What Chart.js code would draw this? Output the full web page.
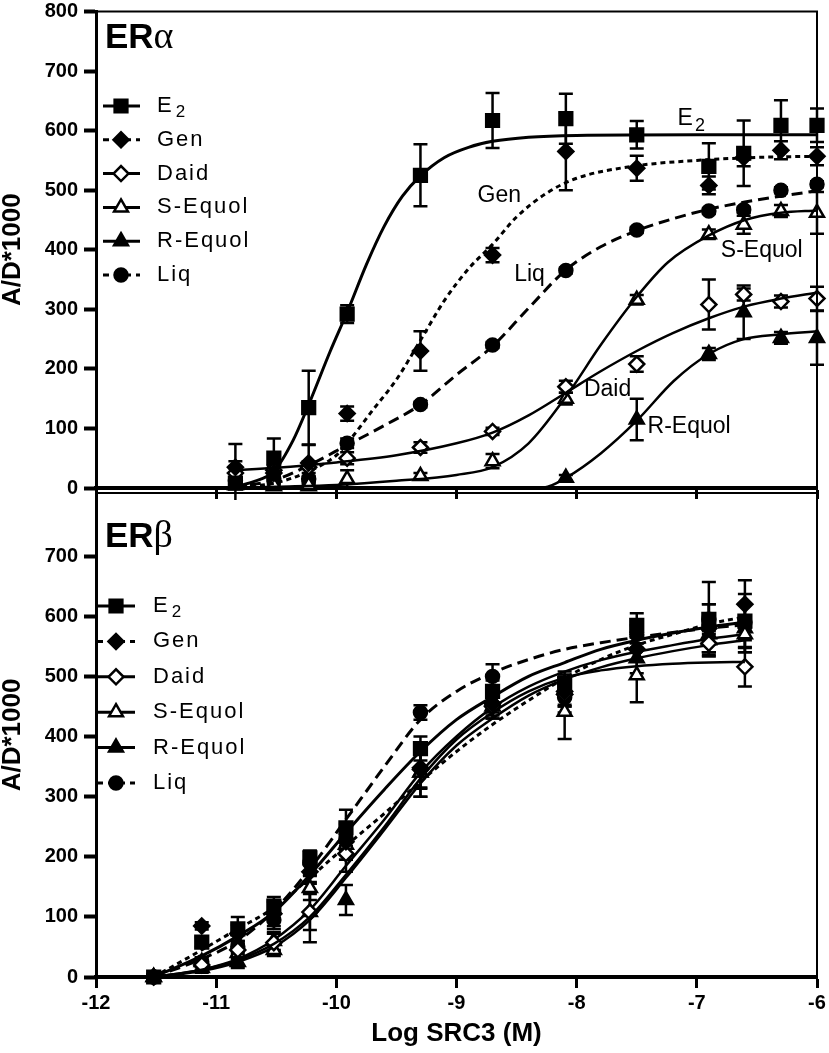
<!DOCTYPE html>
<html>
<head>
<meta charset="utf-8">
<script src="https://cdn.jsdelivr.net/npm/chart.js@4.4.0/dist/chart.umd.min.js"></script>
<style>
  body { margin: 0; background: #fff; width: 829px; height: 1053px; overflow: hidden; position: relative; }
  #chartA { position: absolute; left: 0; top: 0; }
  #chartB { position: absolute; left: 0; top: 480px; }
</style>
</head>
<body>
<canvas id="chartA" width="829" height="500"></canvas>
<canvas id="chartB" width="829" height="573"></canvas>
<script>
// Series names (legend order)
const seriesNames = ['E2', 'Gen', 'Daid', 'S-Equol', 'R-Equol', 'Liq'];

// Axis ticks
const xTicks = [-12, -11, -10, -9, -8, -7, -6];
const alphaYTicks = [0, 100, 200, 300, 400, 500, 600, 700, 800];
const betaYTicks = [0, 100, 200, 300, 400, 500, 600, 700];

// ---- ERα: measured points (Log SRC3, A/D*1000, SEM) ----
const alphaDoses = [-10.84, -10.52, -10.23, -9.91, -9.30, -8.70, -8.09, -7.50, -6.90, -6.61, -6.30, -6.00];
const alphaE2 = [8, 50, 135, 292, 525, 617, 620, 593, 540, 562, 609, 609];
const alphaE2Err = [66, 33, 62, 15, 52, 46, 42, 23, 39, 55, 42, 28];
const alphaGen = [35, 25, 42, 125, 230, 391, 565, 537, 508, 555, 567, 557];
const alphaGenErr = [10, 12, 30, 12, 33, 12, 65, 21, 15, 15, 15, 15];
const alphaDaid = [25, 30, 35, 50, 68, 95, 170, 208, 308, 325, 313, 318];
const alphaDaidErr = [8, 8, 10, 10, 9, 6, 10, 13, 42, 10, 10, 20];
const alphaSEq = [5, 5, 5, 15, 20, 45, 150, 316, 426, 442, 465, 462];
const alphaSEqErr = [3, 3, 3, 15, 5, 12, 10, 8, 8, 15, 10, 35];
const alphaREq = [5, 3, 3, null, null, null, 17, 115, 225, 295, 252, 252];
const alphaREqErr = [3, 3, 3, 0, 0, 0, 5, 35, 10, 45, 10, 45];
const alphaLiq = [12, 15, 15, 75, 140, 240, 365, 433, 465, 467, 500, 510];
const alphaLiqErr = [5, 5, 5, 8, 5, 5, 5, 5, 5, 5, 5, 5];

// ---- ERα: fitted curves ----
const alphaE2CurveX = [-10.86, -10.7, -10.52, -10.36, -10.23, -10.05, -9.91, -9.75, -9.6, -9.45, -9.3, -9.1, -8.9, -8.7, -8.4, -8.0, -7.0, -6.0];
const alphaE2CurveY = [2, 10, 28, 80, 140, 230, 295, 375, 440, 490, 524, 555, 572, 582, 589, 592, 593, 593];
const alphaGenCurveX = [-10.86, -10.52, -10.23, -10.0, -9.91, -9.7, -9.5, -9.3, -9.1, -8.9, -8.7, -8.5, -8.25, -8.0, -7.5, -7.0, -6.5, -6.0];
const alphaGenCurveY = [2, 8, 28, 55, 75, 130, 182, 248, 315, 368, 409, 455, 495, 520, 541, 550, 555, 557];
const alphaDaidCurveX = [-10.86, -10.5, -10.0, -9.5, -9.0, -8.7, -8.4, -8.09, -7.8, -7.5, -7.2, -6.9, -6.6, -6.3, -6.0];
const alphaDaidCurveY = [30, 34, 43, 55, 75, 93, 122, 160, 196, 230, 260, 285, 305, 318, 328];
const alphaSEqCurveX = [-10.86, -10.5, -10.0, -9.5, -9.0, -8.7, -8.4, -8.09, -7.8, -7.5, -7.24, -6.9, -6.6, -6.3, -6.0];
const alphaSEqCurveY = [0, 2, 5, 12, 22, 35, 75, 153, 240, 321, 379, 424, 450, 462, 466];
const alphaREqCurveX = [-10.86, -9.0, -8.5, -8.27, -8.09, -7.8, -7.5, -7.19, -6.9, -6.61, -6.3, -6.0];
const alphaREqCurveY = [0, 0, 0, 1, 17, 58, 113, 180, 225, 250, 258, 263];
const alphaLiqCurveX = [-10.86, -10.52, -10.23, -9.91, -9.6, -9.3, -9.0, -8.7, -8.4, -8.09, -7.8, -7.5, -7.2, -6.9, -6.6, -6.3, -6.0];
const alphaLiqCurveY = [2, 13, 38, 72, 105, 140, 190, 238, 302, 366, 405, 432, 452, 468, 480, 490, 499];

// ---- ERβ: measured points ----
const betaDoses = [-11.52, -11.12, -10.82, -10.52, -10.22, -9.92, -9.30, -8.70, -8.10, -7.50, -6.90, -6.60];
const betaE2 = [0, 58, 80, 118, 198, 248, 380, 475, 488, 585, 595, 592];
const betaE2Err = [4, 8, 20, 15, 12, 30, 20, 18, 20, 20, 62, 45];
const betaGen = [0, 85, 72, 105, 175, 225, 348, 455, 475, 545, 580, 620];
const betaGenErr = [4, 6, 15, 20, 20, 30, 35, 20, 25, 20, 40, 40];
const betaDaid = [0, 20, 45, 57, 108, 205, 345, 450, 470, 545, 555, 516];
const betaDaidErr = [4, 8, 10, 15, 30, 30, 30, 20, 20, 20, 20, 33];
const betaSEq = [0, 25, 40, 45, 148, 220, 340, 460, 441, 502, 560, 570];
const betaSEqErr = [4, 8, 10, 10, 20, 25, 40, 20, 45, 45, 20, 30];
const betaREq = [0, 15, 25, 60, 108, 128, 340, 450, 478, 530, 570, 580];
const betaREqErr = [4, 8, 10, 15, 50, 25, 40, 20, 25, 25, 30, 40];
const betaLiq = [0, 25, 50, 95, 190, 230, 440, 500, 465, 570, 595, 590];
const betaLiqErr = [4, 8, 10, 15, 20, 25, 12, 20, 25, 15, 25, 30];

// ---- ERβ: fitted curves ----
const betaCurveX = [-11.52, -11.12, -10.82, -10.52, -10.22, -9.92, -9.6, -9.3, -9.0, -8.7, -8.4, -8.1, -7.8, -7.5, -7.2, -6.9, -6.6];
const betaE2CurveY = [0, 35, 68, 108, 170, 240, 312, 375, 428, 466, 500, 523, 545, 560, 572, 582, 590];
const betaGenCurveY = [0, 45, 80, 115, 165, 218, 272, 325, 375, 420, 460, 497, 528, 552, 570, 587, 599];
const betaDaidCurveY = [0, 12, 28, 55, 100, 170, 250, 330, 395, 440, 475, 498, 510, 517, 521, 523, 524];
const betaSEqCurveY = [0, 10, 25, 50, 95, 165, 245, 322, 385, 430, 468, 495, 515, 530, 542, 552, 560];
const betaREqCurveY = [0, 12, 30, 62, 112, 185, 262, 340, 400, 448, 483, 508, 527, 541, 552, 562, 570];
const betaLiqCurveY = [0, 30, 60, 110, 180, 262, 350, 428, 475, 506, 528, 545, 556, 565, 573, 580, 586];

// Styles
const FONT = '"Liberation Sans", Arial, Helvetica, sans-serif';
const seriesStyle = [
    { point: 'rect', radius: 9, fill: '#000', dash: [], legendDash: [], width: 3 },
    { point: 'rectRot', radius: 7.5, fill: '#000', dash: [5, 4], legendDash: [6, 5], width: 3 },
    { point: 'rectRot', radius: 7.5, fill: '#fff', dash: [], legendDash: [], width: 2.5 },
    { point: 'triangle', radius: 8, fill: '#fff', dash: [], legendDash: [], width: 2.5 },
    { point: 'triangle', radius: 8, fill: '#000', dash: [], legendDash: [], width: 2.5 },
    { point: 'circle', radius: 6.5, fill: '#000', dash: [11, 6], legendDash: [6, 5], width: 3 },
];

function buildDatasets(curves, doses, points, errs) {
    const ds = [];
    seriesNames.forEach((name, i) => {
        const st = seriesStyle[i];
        ds.push({
            label: name + ' fit',
            data: curves[i][0].map((x, k) => ({ x: x, y: curves[i][1][k] })),
            showLine: true,
            borderColor: '#000',
            borderWidth: st.width,
            borderDash: st.dash,
            pointRadius: 0,
            cubicInterpolationMode: 'monotone',
            fill: false
        });
        ds.push({
            label: name,
            data: doses.map((x, k) => ({ x: x, y: points[i][k] })),
            errors: errs[i],
            showLine: false,
            pointStyle: st.point,
            pointRadius: st.radius,
            pointBackgroundColor: st.fill,
            pointBorderColor: '#000',
            pointBorderWidth: 2.5,
            clip: false
        });
    });
    return ds;
}

// small marker drawer for the legend (same geometry as Chart.js point styles)
function drawMarker(ctx, style, r, x, y) {
    ctx.beginPath();
    if (style === 'rect') {
        const s = r * Math.SQRT1_2;
        ctx.rect(x - s, y - s, 2 * s, 2 * s);
    } else if (style === 'rectRot') {
        ctx.moveTo(x - r, y); ctx.lineTo(x, y - r); ctx.lineTo(x + r, y); ctx.lineTo(x, y + r); ctx.closePath();
    } else if (style === 'triangle') {
        for (let k = 0; k < 3; k++) {
            const a = k * 2 * Math.PI / 3;
            const px = x + Math.sin(a) * r, py = y - Math.cos(a) * r;
            if (k === 0) ctx.moveTo(px, py); else ctx.lineTo(px, py);
        }
        ctx.closePath();
    } else {
        ctx.arc(x, y, r, 0, Math.PI * 2);
    }
    ctx.fill();
    ctx.stroke();
}

// writes a label, with E2 given a subscript 2
function drawName(ctx, name, x, y, size, spacing) {
    ctx.letterSpacing = spacing + 'px';
    ctx.font = size + 'px ' + FONT;
    ctx.textAlign = 'left';
    ctx.textBaseline = 'middle';
    if (name === 'E2') {
        ctx.fillText('E', x, y);
        const w = ctx.measureText('E').width;
        ctx.font = Math.round(size * 0.78) + 'px ' + FONT;
        ctx.fillText('2', x + w + 2, y + size * 0.3);
    } else {
        ctx.fillText(name, x, y);
    }
    ctx.letterSpacing = '0px';
}

const errorBars = {
    id: 'errorBars',
    beforeDatasetsDraw(chart) {
        const { ctx, scales: { x, y } } = chart;
        ctx.save();
        ctx.strokeStyle = '#000';
        ctx.lineWidth = 2.5;
        chart.data.datasets.forEach(ds => {
            if (!ds.errors) return;
            ds.data.forEach((p, k) => {
                const e = ds.errors[k];
                if (p.y == null || !e) return;
                const px = x.getPixelForValue(p.x);
                const top = y.getPixelForValue(p.y + e);
                const bot = y.getPixelForValue(p.y - e);
                ctx.beginPath();
                ctx.moveTo(px, top); ctx.lineTo(px, bot);
                ctx.moveTo(px - 7, top); ctx.lineTo(px + 7, top);
                ctx.moveTo(px - 7, bot); ctx.lineTo(px + 7, bot);
                ctx.stroke();
            });
        });
        ctx.restore();
    }
};

const panelDecor = {
    id: 'panelDecor',
    afterDatasetsDraw(chart, args, o) {
        const { ctx, chartArea: a, scales: { x, y } } = chart;
        ctx.save();
        // top and right frame
        ctx.strokeStyle = '#000';
        ctx.lineWidth = 2;
        ctx.beginPath();
        ctx.moveTo(a.left, a.top); ctx.lineTo(a.right, a.top); ctx.lineTo(a.right, a.bottom);
        ctx.stroke();

        // panel title
        ctx.fillStyle = '#000';
        ctx.textAlign = 'left';
        ctx.textBaseline = 'alphabetic';
        ctx.font = 'bold 35px ' + FONT;
        ctx.fillText('ER', o.titleX, o.titleY);
        const w = ctx.measureText('ER').width;
        ctx.font = '38px "Liberation Serif", "DejaVu Serif", serif';
        ctx.fillText(o.greek, o.titleX + w, o.titleY);

        // legend inside the plot
        seriesNames.forEach((name, i) => {
            const st = seriesStyle[i];
            const yy = o.legY + i * o.legDy;
            ctx.strokeStyle = '#000';
            ctx.lineWidth = 3;
            ctx.setLineDash(st.legendDash);
            ctx.beginPath(); ctx.moveTo(o.legX0, yy); ctx.lineTo(o.legX1, yy); ctx.stroke();
            ctx.setLineDash([]);
            ctx.lineWidth = 2.5;
            ctx.fillStyle = st.fill;
            drawMarker(ctx, st.point, st.radius, o.legMx, yy);
            ctx.fillStyle = '#000';
            drawName(ctx, name, o.legTx, yy, 22, 2);
        });

        // curve labels
        (o.notes || []).forEach(n => {
            ctx.fillStyle = '#000';
            drawName(ctx, n.text, x.getPixelForValue(n.x), y.getPixelForValue(n.y), 23, 0);
        });
        ctx.restore();
    }
};

function makeOptions(yMax, yTicks, showXLabels, xHeight, padTop, decor) {
    return {
        responsive: false,
        animation: false,
        events: [],
        layout: { padding: { top: padTop, right: 12, left: 0, bottom: 0 } },
        plugins: { legend: { display: false }, tooltip: { enabled: false }, panelDecor: decor },
        scales: {
            x: {
                type: 'linear',
                min: -12,
                max: -6,
                afterBuildTicks: s => { s.ticks = xTicks.map(v => ({ value: v })); },
                afterFit: s => { s.height = xHeight; s.paddingLeft = 0; s.paddingRight = 0; },
                ticks: { display: showXLabels, color: '#000', padding: 3, font: { family: FONT, size: 20, weight: 'bold' } },
                grid: { drawOnChartArea: false, drawTicks: true, tickLength: 11, tickWidth: 3, color: '#000' },
                border: { display: true, color: '#000', width: 4 },
                title: {
                    display: showXLabels,
                    text: 'Log SRC3 (M)',
                    color: '#000',
                    padding: { top: 0, bottom: 4 },
                    font: { family: FONT, size: 26, weight: 'bold' }
                }
            },
            y: {
                type: 'linear',
                min: 0,
                max: yMax,
                afterBuildTicks: s => { s.ticks = yTicks.map(v => ({ value: v })); },
                afterFit: s => { s.width = 96; s.paddingTop = 0; s.paddingBottom = 0; },
                ticks: { color: '#000', padding: 6, font: { family: FONT, size: 20, weight: 'bold' } },
                grid: { drawOnChartArea: false, drawTicks: true, tickLength: 12, tickWidth: 4, color: '#000' },
                border: { display: true, color: '#000', width: 3 },
                title: {
                    display: true,
                    text: 'A/D*1000',
                    color: '#000',
                    padding: 0,
                    font: { family: FONT, size: 26, weight: 'bold', lineHeight: 1 }
                }
            }
        }
    };
}

// ERα panel
new Chart(document.getElementById('chartA'), {
    type: 'scatter',
    data: {
        datasets: buildDatasets(
            [[alphaE2CurveX, alphaE2CurveY], [alphaGenCurveX, alphaGenCurveY], [alphaDaidCurveX, alphaDaidCurveY],
             [alphaSEqCurveX, alphaSEqCurveY], [alphaREqCurveX, alphaREqCurveY], [alphaLiqCurveX, alphaLiqCurveY]],
            alphaDoses,
            [alphaE2, alphaGen, alphaDaid, alphaSEq, alphaREq, alphaLiq],
            [alphaE2Err, alphaGenErr, alphaDaidErr, alphaSEqErr, alphaREqErr, alphaLiqErr])
    },
    options: makeOptions(800, alphaYTicks, false, 12, 7, {
        greek: 'α', titleX: 105, titleY: 48,
        legY: 106, legDy: 33.8, legX0: 103, legX1: 140, legMx: 121, legTx: 157,
        notes: [
            { text: 'E2', x: -7.16, y: 620 },
            { text: 'Gen', x: -8.825, y: 491 },
            { text: 'Liq', x: -8.52, y: 358 },
            { text: 'S-Equol', x: -6.8, y: 398 },
            { text: 'Daid', x: -7.94, y: 165 },
            { text: 'R-Equol', x: -7.41, y: 103 }
        ]
    }),
    plugins: [errorBars, panelDecor]
});

// ERβ panel
new Chart(document.getElementById('chartB'), {
    type: 'scatter',
    data: {
        datasets: buildDatasets(
            [[betaCurveX, betaE2CurveY], [betaCurveX, betaGenCurveY], [betaCurveX, betaDaidCurveY],
             [betaCurveX, betaSEqCurveY], [betaCurveX, betaREqCurveY], [betaCurveX, betaLiqCurveY]],
            betaDoses,
            [betaE2, betaGen, betaDaid, betaSEq, betaREq, betaLiq],
            [betaE2Err, betaGenErr, betaDaidErr, betaSEqErr, betaREqErr, betaLiqErr])
    },
    options: makeOptions(805, betaYTicks, true, 76, 13, {
        greek: 'β', titleX: 105, titleY: 67,
        legY: 126, legDy: 35.4, legX0: 97, legX1: 135, legMx: 116, legTx: 153,
        notes: []
    }),
    plugins: [errorBars, panelDecor]
});
</script>
</body>
</html>
